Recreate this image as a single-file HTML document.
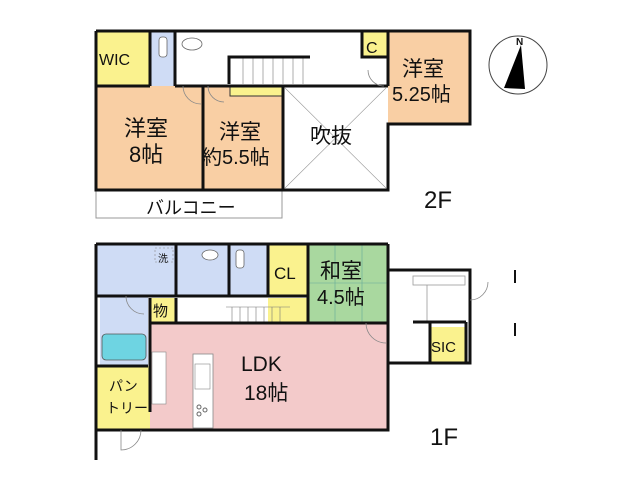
<!DOCTYPE html>
<html><head><meta charset="utf-8"><style>
body{margin:0;background:#fff}
svg{display:block}
text{font-family:"Liberation Sans","Noto Sans CJK JP",sans-serif;fill:#111}
</style></head><body>
<svg width="640" height="480" viewBox="0 0 640 480" xmlns="http://www.w3.org/2000/svg">
<circle cx="518" cy="65" r="29" fill="#fff" stroke="#444" stroke-width="1"/>
<polygon points="521,45 504,88 525,89" fill="#000"/>
<text x="516" y="45" font-size="10" font-family="Liberation Serif" font-weight="bold">N</text>

<rect x="175" y="31" width="187" height="55" fill="#fff"/>
<rect x="96" y="31" width="54" height="55" fill="#faf28e"/>
<rect x="150" y="31" width="25" height="55" fill="#cfdcf5"/>
<rect x="362" y="31" width="26" height="26" fill="#faf28e"/>
<rect x="388" y="31" width="82" height="93" fill="#f9cfa4"/>
<rect x="96" y="86" width="107" height="104" fill="#f9cfa4"/>
<rect x="203" y="86" width="80" height="104" fill="#f9cfa4"/>
<rect x="230" y="86" width="52" height="10" fill="#faf28e" stroke="#333" stroke-width="1"/>
<rect x="283" y="86" width="105" height="104" fill="#fff"/>
<line x1="285" y1="88" x2="386" y2="188" stroke="#999" stroke-width="0.6"/>
<line x1="386" y1="88" x2="285" y2="188" stroke="#999" stroke-width="0.6"/>
<g stroke="#777" stroke-width="0.6">
<line x1="243" y1="58" x2="243" y2="84"/><line x1="253" y1="58" x2="253" y2="84"/><line x1="263" y1="58" x2="263" y2="84"/><line x1="273" y1="58" x2="273" y2="84"/><line x1="283" y1="58" x2="283" y2="84"/><line x1="293" y1="58" x2="293" y2="84"/><line x1="303" y1="58" x2="303" y2="84"/>
</g>
<path d="M229,84 V57 H310" fill="none" stroke="#111" stroke-width="3"/>
<rect x="159" y="37" width="8" height="20" rx="3" fill="#fff" stroke="#666" stroke-width="0.8"/>
<ellipse cx="192" cy="44" rx="10" ry="6" fill="#fff" stroke="#666" stroke-width="0.8"/>
<rect x="96" y="190" width="186" height="28" fill="#fff" stroke="#999" stroke-width="1"/>
<g fill="none" stroke="#111" stroke-width="3">
<path d="M96,31 H388"/><path d="M388,31 H470 V124 H388 V190 H96 V31"/>
<path d="M96,86 H150"/><path d="M150,31 V86"/><path d="M175,31 V86"/>
<path d="M175,86 H388"/><path d="M203,86 V190"/><path d="M283,86 V190"/>
<path d="M362,31 V57 H388"/><path d="M388,31 V86"/>
</g>
<g fill="none" stroke="#888" stroke-width="0.8">
<path d="M183,86 A18,18 0 0 0 201,104"/><path d="M208,86 A16,16 0 0 0 224,102"/>
<path d="M368,70 A16,16 0 0 0 384,86"/>
</g>
<text x="99" y="65" font-size="16">WIC</text>
<text x="366" y="53" font-size="16">C</text>
<text x="402" y="76" font-size="21">洋室</text>
<text x="392" y="101" font-size="20">5.25帖</text>
<text x="124" y="136" font-size="22">洋室</text>
<text x="129" y="162" font-size="22">8帖</text>
<text x="219" y="139" font-size="21">洋室</text>
<text x="202" y="164" font-size="20">約5.5帖</text>
<text x="310" y="143" font-size="21">吹抜</text>
<text x="146" y="214" font-size="18">バルコニー</text>
<text x="424" y="208" font-size="24">2F</text>

<rect x="96" y="244" width="80" height="52" fill="#cfdcf5"/>
<rect x="176" y="244" width="53" height="52" fill="#cfdcf5"/>
<rect x="229" y="244" width="39" height="52" fill="#cfdcf5"/>
<rect x="268" y="244" width="40" height="52" fill="#faf28e"/>
<rect x="308" y="244" width="80" height="79" fill="#a9d89f"/>
<g stroke="#6a9" stroke-width="0.6"><line x1="308" y1="283" x2="388" y2="283"/><line x1="335" y1="244" x2="335" y2="323"/><line x1="362" y1="244" x2="362" y2="323"/></g>
<rect x="100" y="296" width="48" height="70" fill="#cfdcf5"/>
<rect x="102" y="334" width="44" height="26" rx="4" fill="#6ed4e2" stroke="#555" stroke-width="0.8"/>
<rect x="150" y="298" width="26" height="24" fill="#faf28e"/>
<rect x="176" y="298" width="92" height="24" fill="#fff"/>
<rect x="268" y="298" width="40" height="24" fill="#faf28e"/>
<g stroke="#777" stroke-width="0.6">
<line x1="232" y1="307" x2="232" y2="322"/><line x1="240" y1="307" x2="240" y2="322"/><line x1="248" y1="307" x2="248" y2="322"/><line x1="256" y1="307" x2="256" y2="322"/><line x1="264" y1="307" x2="264" y2="322"/><line x1="272" y1="307" x2="272" y2="322"/><line x1="280" y1="307" x2="280" y2="322"/>
<line x1="226" y1="307" x2="290" y2="307"/>
</g>
<rect x="150" y="323" width="238" height="107" fill="#f3caca"/>
<rect x="96" y="366" width="54" height="64" fill="#faf28e"/>
<rect x="430" y="327" width="36" height="35" fill="#faf28e"/>
<rect x="193" y="354" width="20" height="74" fill="#fff" stroke="#888" stroke-width="0.8"/>
<rect x="195" y="364" width="15" height="25" fill="#fff" stroke="#888" stroke-width="0.6"/>
<rect x="152" y="352" width="14" height="52" fill="#fff" stroke="#888" stroke-width="0.6"/>
<circle cx="199" cy="407" r="2" fill="none" stroke="#666"/><circle cx="205" cy="410" r="2" fill="none" stroke="#666"/><circle cx="199" cy="414" r="2" fill="none" stroke="#666"/>
<ellipse cx="210" cy="255" rx="8" ry="5" fill="#fff" stroke="#666" stroke-width="0.8"/>
<rect x="236" y="250" width="8" height="18" rx="3" fill="#fff" stroke="#666" stroke-width="0.8"/>
<rect x="155" y="248" width="18" height="14" fill="none" stroke="#888" stroke-dasharray="2,2" stroke-width="0.6"/>
<rect x="413" y="276" width="52" height="9" fill="#fff" stroke="#999" stroke-width="0.8"/>
<line x1="427" y1="285" x2="427" y2="322" stroke="#999" stroke-width="0.8"/>
<g fill="none" stroke="#111" stroke-width="3">
<path d="M96,244 H388"/><path d="M96,244 V460"/><path d="M96,430 H388 V244"/>
<path d="M176,244 V296"/><path d="M229,244 V296"/><path d="M268,244 V296"/><path d="M308,244 V323"/>
<path d="M96,296 H308"/><path d="M150,298 V366 M148,366 H96"/><path d="M176,298 V322"/>
<path d="M150,323 H388"/>
<path d="M388,270 H470 V363 H388"/><path d="M413,322 H466"/><path d="M430,322 V362"/><path d="M466,322 V362"/>
<path d="M150,366 V412"/>
</g>
<g fill="none" stroke="#888" stroke-width="0.8">
<path d="M366,323 A20,20 0 0 0 386,343"/><path d="M470,300 A18,18 0 0 0 488,282"/>
<path d="M121,430 V450 A20,20 0 0 0 141,430"/><path d="M126,296 A18,18 0 0 0 144,314"/>
</g>
<g stroke="#111" stroke-width="2"><line x1="515" y1="270" x2="515" y2="283"/><line x1="515" y1="323" x2="515" y2="336"/></g>
<text x="158" y="262" font-size="10">洗</text>
<text x="274" y="279" font-size="17">CL</text>
<text x="320" y="278" font-size="21">和室</text>
<text x="317" y="304" font-size="20">4.5帖</text>
<text x="153" y="316" font-size="15">物</text>
<text x="241" y="371" font-size="21">LDK</text>
<text x="244" y="400" font-size="21">18帖</text>
<text x="109" y="391" font-size="14">パン</text>
<text x="106" y="413" font-size="14">トリー</text>
<text x="431" y="352" font-size="15">SIC</text>
<text x="430" y="445" font-size="24">1F</text>
</svg>
</body></html>
